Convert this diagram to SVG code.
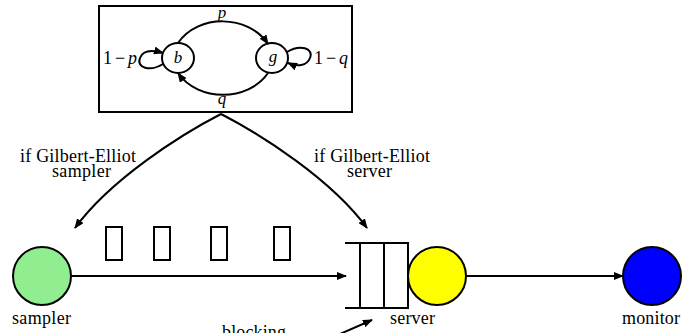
<svg xmlns="http://www.w3.org/2000/svg" width="696" height="333" viewBox="0 0 696 333">
<style>
.ln{fill:none;stroke:#000;stroke-width:2}
.nd{stroke:#000;stroke-width:2}
.t{font-family:'Liberation Serif','Times New Roman',Times,serif;font-size:18px}
.mm{font-family:'Liberation Serif','Times New Roman',Times,serif;font-size:17px;font-style:italic}
</style>
<defs>
<marker id="ah" viewBox="0 0 10 8" refX="9" refY="4" markerWidth="10" markerHeight="8" markerUnits="userSpaceOnUse" orient="auto">
<path d="M0,0 L10,4 L0,8 Z" fill="#000"/>
</marker>
</defs>
<g id="ge-box">
<rect x="99" y="6" width="253" height="106" fill="#fff" stroke="#000" stroke-width="2"/>
<text x="222" y="18" class="mm" text-anchor="middle">p</text>
<text x="222" y="104" class="mm" text-anchor="middle">q</text>
</g>
<g id="state-b">
<ellipse cx="178" cy="58" rx="16" ry="15" fill="#fff" class="nd"/>
<text x="178" y="63" class="mm" text-anchor="middle">b</text>
<text x="103" y="64" class="t" font-size="17" textLength="34" lengthAdjust="spacing">1−<tspan font-style="italic">p</tspan></text>
</g>
<g id="state-g">
<ellipse cx="272" cy="58" rx="16" ry="15" fill="#fff" class="nd"/>
<text x="273" y="62" class="mm" text-anchor="middle">g</text>
<text x="314" y="64" class="t" textLength="34" lengthAdjust="spacing">1−<tspan font-style="italic">q</tspan></text>
</g>
<g id="connectors">
<path class="ln" d="M178,43 C198,14 248,14 268,44" marker-end="url(#ah)"/>
<path class="ln" d="M268,73 C248,102 198,102 178,73" marker-end="url(#ah)"/>
<path class="ln" d="M163,64 C150,72 136,68 140,58 C143,50 153,50 163,53" marker-end="url(#ah)"/>
<path class="ln" d="M287,52 C300,44 314,48 310,58 C307,66 297,67 288,63" marker-end="url(#ah)"/>
<path class="ln" d="M221,114 C180,135 110,180 75,228" marker-end="url(#ah)"/>
<path class="ln" d="M221,114 C262,135 332,180 367,228" marker-end="url(#ah)"/>
<path class="ln" d="M71,276 L346,276" marker-end="url(#ah)"/>
<path class="ln" d="M466,276 L623,276" marker-end="url(#ah)"/>
<path class="ln" d="M340,334 L372,320" marker-end="url(#ah)"/>
</g>
<g id="labels">
<text x="20" y="162" class="t" textLength="116">if Gilbert-Elliot</text>
<text x="52" y="177" class="t" textLength="59">sampler</text>
<text x="314" y="162" class="t" textLength="116">if Gilbert-Elliot</text>
<text x="347" y="177" class="t" textLength="45">server</text>
<text x="222" y="338" class="t" textLength="64">blocking</text>
</g>
<g id="packets">
<rect x="106" y="227" width="16" height="33" fill="#fff" class="nd"/>
<rect x="154" y="227" width="16" height="33" fill="#fff" class="nd"/>
<rect x="211" y="227" width="16" height="33" fill="#fff" class="nd"/>
<rect x="274" y="227" width="16" height="33" fill="#fff" class="nd"/>
</g>
<g id="sampler">
<circle cx="42" cy="276" r="29" fill="#90ee90" class="nd"/>
<text x="12" y="324" class="t" textLength="59">sampler</text>
</g>
<g id="queue">
<path class="ln" d="M345,243 H408 V308 H345 M360,243 V308 M384,243 V308"/>
</g>
<g id="server">
<circle cx="437" cy="276" r="29" fill="#ffff00" class="nd"/>
<text x="390" y="324" class="t" textLength="45">server</text>
</g>
<g id="monitor">
<circle cx="652" cy="276" r="29" fill="#0000ff" class="nd"/>
<text x="622" y="324" class="t" textLength="58">monitor</text>
</g>
</svg>
